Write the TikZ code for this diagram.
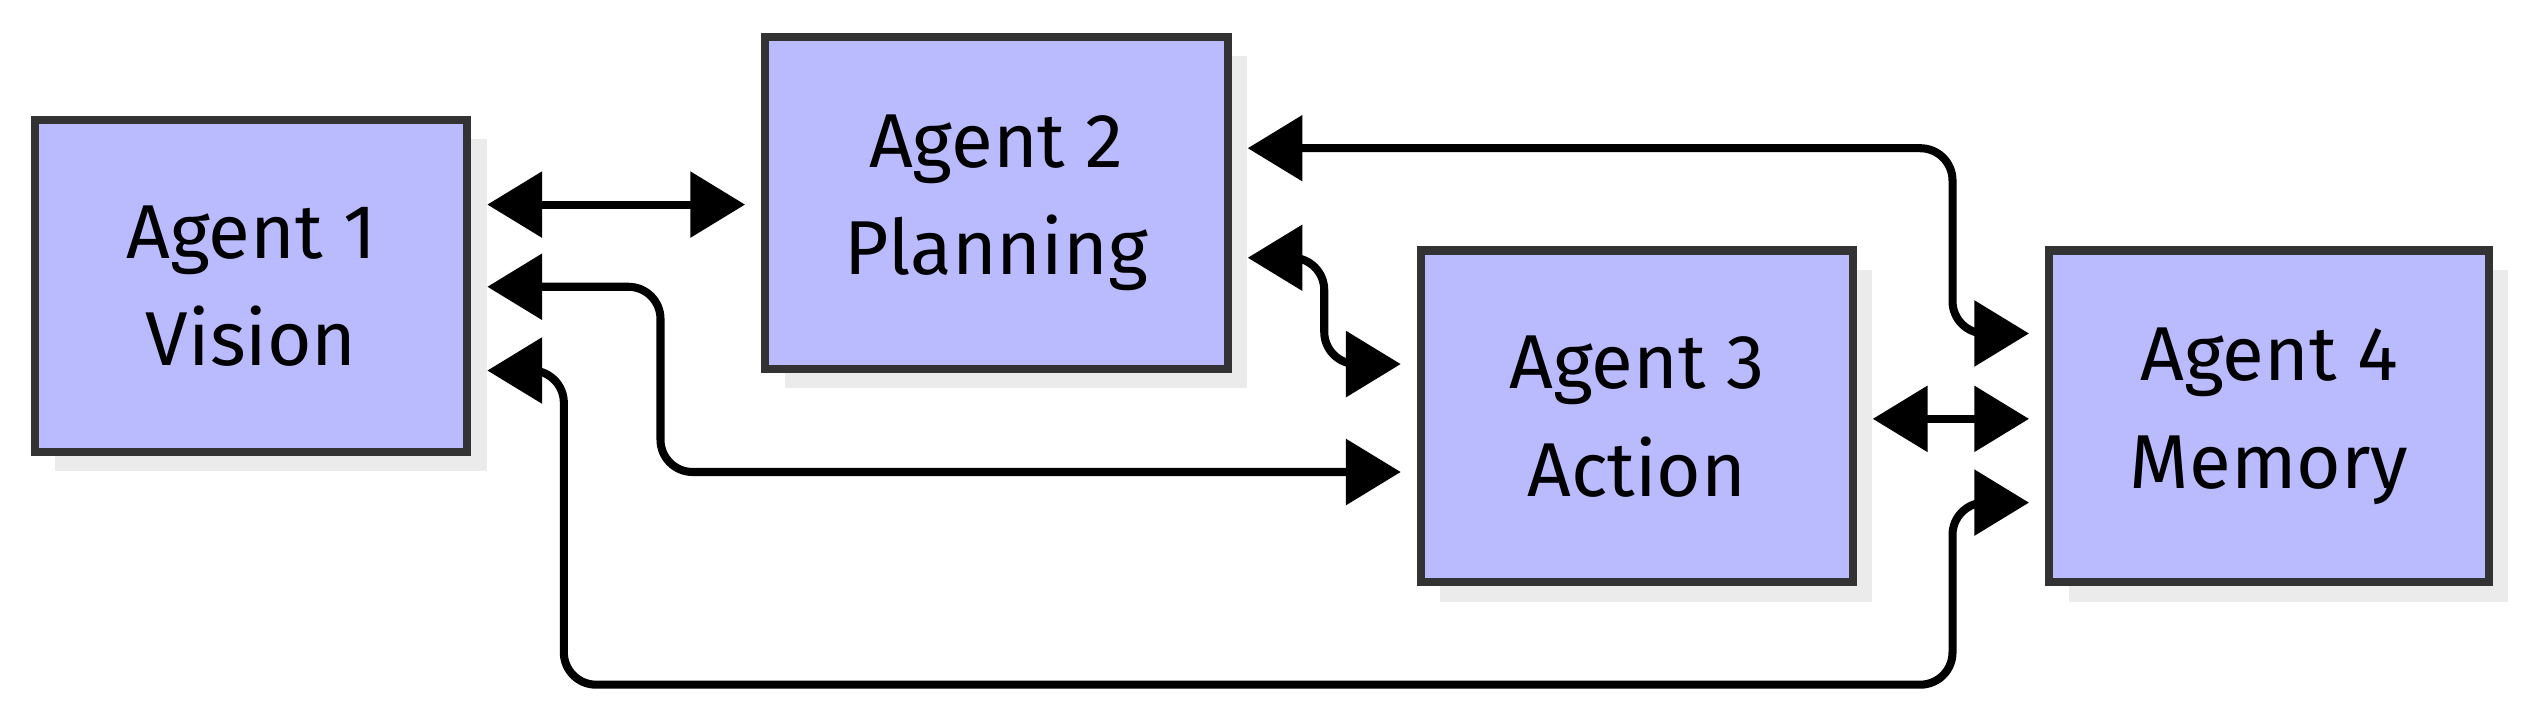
\documentclass[tikz,border=0pt]{standalone}
\usepackage{fontspec}
\setmainfont{Fira Sans}
\usetikzlibrary{arrows.meta,shadows}
\begin{document}
\begin{tikzpicture}[agent/.style={draw=black!80,line width=0.05cm,fill=blue!27,
    minimum width=#1,minimum height=2.06cm,align=center,font=\fontsize{13.5}{19}\selectfont,
    drop shadow={shadow xshift=0.12cm,shadow yshift=-0.12cm,fill=black!8,opacity=1}},
  link/.style={line width=0.05cm,rounded corners=0.2cm,
    {Triangle[length=0.34cm,width=0.4cm]}-{Triangle[length=0.34cm,width=0.4cm]},
    shorten <=0.1cm,shorten >=0.1cm}]
  \useasboundingbox (0,0) rectangle (15.68,4.5);
  \node[agent=2.68cm](a1) at (1.56,2.725){Agent 1\\Vision};
  \node[agent=2.87cm](a2) at (6.185,3.24){Agent 2\\Planning};
  \node[agent=2.68cm](a3) at (10.16,1.915){Agent 3\\Action};
  \node[agent=2.73cm](a4) at (14.085,1.915){Agent 4\\Memory};
  % connectors
  \draw[link] (a1.east |- 0,3.23) -- (a2.west |- 0,3.23);
  \draw[link] (a1.east |- 0,2.72) -| (4.1,1.57) -- (a3.west |- 0,1.57);
  \draw[link] (a1.east |- 0,2.2) -| (3.5,0.25) -| (12.12,1.38) -- (a4.west |- 0,1.38);
  \draw[link] (a2.east |- 0,3.58) -| (12.12,2.43) -- (a4.west |- 0,2.43);
  \draw[link] (a2.east |- 0,2.9) -| (8.22,2.24) -- (a3.west |- 0,2.24);
  \draw[link] (a3.east |- 0,1.9) -- (a4.west |- 0,1.9);
\end{tikzpicture}
\end{document}
